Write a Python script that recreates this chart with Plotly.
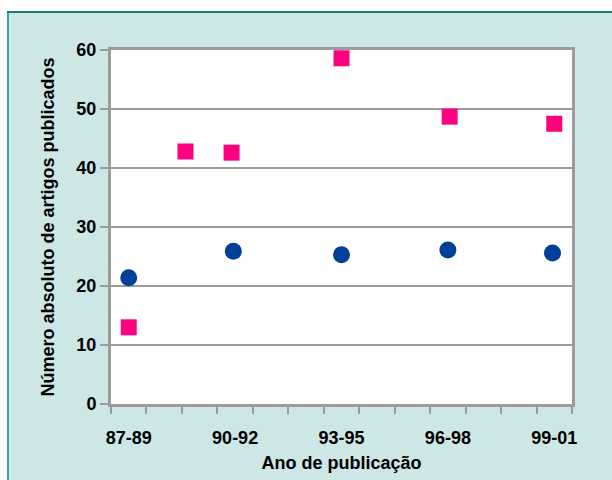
import plotly.graph_objects as go

# ---- data ----
tick_labels = ["87-89", "90-92", "93-95", "96-98", "99-01"]
tick_positions = [0, 3, 6, 9, 12]

pink_x = [0, 1.6, 2.9, 6, 9.05, 12]
pink_y = [13.0, 42.8, 42.6, 58.6, 48.7, 47.5]

blue_x = [0, 2.95, 6, 9, 11.95]
blue_y = [21.4, 25.9, 25.3, 26.1, 25.6]

# ---- layout geometry (px) ----
W, H = 612, 480
ML, MR, MT, MB = 111, 40, 50, 76
PW, PH = W - ML - MR, H - MT - MB

def px_x(p):
    return (p - ML) / PW

def px_y(p):
    return (H - MB - p) / PH

TEAL_BG = "#CDE6E6"
GRID = "#9c9c9c"
FONT = "Liberation Sans, Arial, sans-serif"

fig = go.Figure()
fig.add_trace(go.Scatter(
    x=pink_x, y=pink_y, mode="markers",
    marker=dict(symbol="square", size=16, color="#FF0080", line=dict(width=0)),
    showlegend=False, cliponaxis=False,
))
fig.add_trace(go.Scatter(
    x=blue_x, y=blue_y, mode="markers",
    marker=dict(symbol="circle", size=17, color="#00409A", line=dict(width=0)),
    showlegend=False, cliponaxis=False,
))

shapes = [
    dict(type="rect", xref="paper", yref="paper", layer="below",
         x0=px_x(-5), x1=px_x(7), y0=px_y(H + 5), y1=px_y(-5),
         fillcolor="white", line=dict(width=0)),
    dict(type="rect", xref="paper", yref="paper", layer="below",
         x0=px_x(-5), x1=px_x(W + 5), y0=px_y(11), y1=px_y(-5),
         fillcolor="white", line=dict(width=0)),
    dict(type="line", xref="paper", yref="paper", layer="below",
         x0=px_x(8), x1=px_x(8), y0=px_y(11), y1=px_y(H + 5),
         line=dict(color="#3AA59A", width=2)),
    dict(type="line", xref="paper", yref="paper", layer="below",
         x0=px_x(7), x1=px_x(W + 5), y0=px_y(12), y1=px_y(12),
         line=dict(color="#1F7A7A", width=2)),
]

fig.update_layout(
    width=W, height=H,
    margin=dict(l=ML, r=MR, t=MT, b=MB),
    paper_bgcolor=TEAL_BG,
    plot_bgcolor="white",
    font=dict(family=FONT, color="black"),
    shapes=shapes,
    xaxis=dict(
        range=[-0.5, 12.5], automargin=False,
        tickmode="array", tickvals=tick_positions, ticktext=tick_labels,
        ticks="", ticklabelstandoff=15,
        tickfont=dict(size=18, family=FONT, weight="bold"),
        showgrid=False, zeroline=False,
        showline=True, linecolor=GRID, linewidth=3, mirror=True,
        minor=dict(tickmode="linear", tick0=-0.5, dtick=1, ticks="outside",
                   ticklen=7, tickwidth=2, tickcolor=GRID, showgrid=False),
        title=dict(text="<b>Ano de publicação</b>", font=dict(size=18, family=FONT),
                   standoff=10),
    ),
    yaxis=dict(
        range=[0, 60], tickmode="linear", tick0=0, dtick=10, automargin=False,
        ticks="outside", ticklen=8, tickwidth=2, tickcolor=GRID,
        tickfont=dict(size=18, family=FONT, weight="bold"),
        showgrid=True, gridcolor=GRID, gridwidth=2, zeroline=False,
        showline=True, linecolor=GRID, linewidth=3, mirror=True,
        title=dict(text="<b>Número absoluto de artigos publicados</b>",
                   font=dict(size=18, family=FONT), standoff=18),
    ),
)

fig.write_html(
    "out.html",
    config={"displayModeBar": False},
    post_script="document.body.style.margin='0';document.body.style.overflow='hidden';",
)
